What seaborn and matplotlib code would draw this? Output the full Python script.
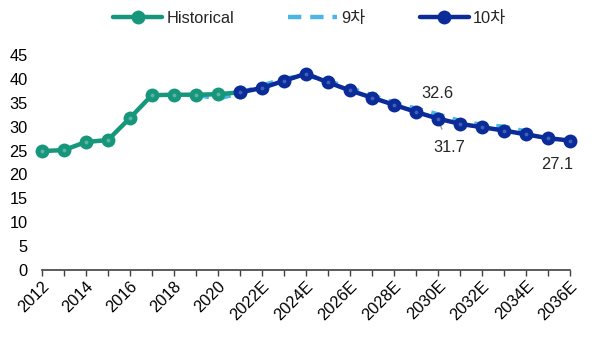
import matplotlib
matplotlib.use("Agg")
import matplotlib.pyplot as plt
import seaborn as sns
import pandas as pd
from matplotlib.lines import Line2D

# Series values
hist_years = [2012, 2013, 2014, 2015, 2016, 2017, 2018, 2019, 2020, 2021]
hist_vals = [24.9, 25.1, 26.8, 27.2, 31.8, 36.6, 36.7, 36.7, 36.8, 37.2]

plan9_years = list(range(2019, 2035))
plan9_vals = [36.7, 35.9, 37.0, 38.6, 40.0, 40.8, 39.6, 38.1, 36.6, 35.0,
              33.8, 32.6, 31.2, 30.4, 30.0, 29.0]

plan10_years = list(range(2021, 2037))
plan10_vals = [37.2, 38.1, 39.6, 41.1, 39.3, 37.6, 36.1, 34.6, 33.1, 31.7,
               30.6, 29.9, 29.2, 28.4, 27.6, 27.1]

tick_years = list(range(2012, 2037, 2))
tick_labels = ["2012", "2014", "2016", "2018", "2020", "2022E", "2024E",
               "2026E", "2028E", "2030E", "2032E", "2034E", "2036E"]
y_ticks = list(range(0, 50, 5))

series_names = ["Historical", "9차", "10차"]
GREEN = "#16977b"
LIGHT = "#4bb6e6"
NAVY = "#0a2b98"
FS = 11.8

sns.set_theme(style="white")
plt.rcParams["font.family"] = ["Liberation Sans", "Noto Sans CJK KR"]

fig = plt.figure(figsize=(5.98, 3.40), dpi=100)
ax = fig.add_axes([0.070, 0.206, 0.883, 0.632])

df_hist = pd.DataFrame({"year": hist_years, "value": hist_vals})
df_9 = pd.DataFrame({"year": plan9_years, "value": plan9_vals})
df_10 = pd.DataFrame({"year": plan10_years, "value": plan10_vals})

sns.lineplot(data=df_hist, x="year", y="value", ax=ax, color=GREEN,
             linewidth=3.2, marker="o", markersize=10, markeredgewidth=0,
             clip_on=False, zorder=3)
sns.lineplot(data=df_9, x="year", y="value", ax=ax, color=LIGHT,
             linewidth=3.2, linestyle=(0, (3, 2)), clip_on=False, zorder=2)
sns.lineplot(data=df_10, x="year", y="value", ax=ax, color=NAVY,
             linewidth=3.2, marker="o", markersize=10, markeredgewidth=0,
             clip_on=False, zorder=4)

# small light centres on the markers
ax.scatter(hist_years[:-1], hist_vals[:-1], s=3, color="#5fb3a0", zorder=5, clip_on=False)
ax.scatter(plan10_years, plan10_vals, s=3, color="#3f5fb8", zorder=5, clip_on=False)

ax.set_xlim(2012, 2036)
ax.set_ylim(0, 45)
ax.set_xticks(range(2012, 2037))
ax.set_xticklabels([tick_labels[tick_years.index(y)] if y in tick_years else ""
                    for y in range(2012, 2037)], rotation=45, ha="right",
                   rotation_mode="anchor", fontsize=FS)
ax.set_yticks(y_ticks)
ax.set_yticklabels([str(v) for v in y_ticks], fontsize=FS)
ax.set_xlabel("")
ax.set_ylabel("")

for side in ["top", "right", "left"]:
    ax.spines[side].set_visible(False)
ax.spines["bottom"].set_color("#404040")
ax.spines["bottom"].set_linewidth(1.2)
ax.tick_params(axis="x", bottom=True, length=4, width=1.0, color="#404040",
               pad=2, labelcolor="black")
ax.tick_params(axis="y", left=False, pad=4, labelcolor="black")
ax.grid(False)

# value labels
ax.annotate(f"{plan9_vals[plan9_years.index(2030)]}", xy=(2030, plan9_vals[plan9_years.index(2030)]),
            xytext=(2030.0, 37.0), ha="center", va="center", fontsize=FS)
ax.annotate(f"{plan10_vals[plan10_years.index(2030)]}", xy=(2030, plan10_vals[plan10_years.index(2030)]),
            xytext=(2030.5, 25.6), ha="center", va="center", fontsize=FS,
            arrowprops=dict(arrowstyle="-", color="#9a9a9a", lw=1.0,
                            shrinkA=6, shrinkB=1))
ax.annotate(f"{plan10_vals[-1]}", xy=(2036, plan10_vals[-1]),
            xytext=(2035.4, 22.0), ha="center", va="center", fontsize=FS)

handles = [
    Line2D([], [], color=GREEN, linewidth=3.2, marker="o", markersize=10, markeredgewidth=0),
    Line2D([], [], color=LIGHT, linewidth=3.2, linestyle=(0, (3, 2))),
    Line2D([], [], color=NAVY, linewidth=3.2, marker="o", markersize=10, markeredgewidth=0),
]
fig.legend(handles, series_names, loc="center", bbox_to_anchor=(0.518, 0.945),
           ncol=3, frameon=False, fontsize=FS, handlelength=3.0,
           columnspacing=3.3, handletextpad=0.25)

fig.savefig("out.png", dpi=100)
